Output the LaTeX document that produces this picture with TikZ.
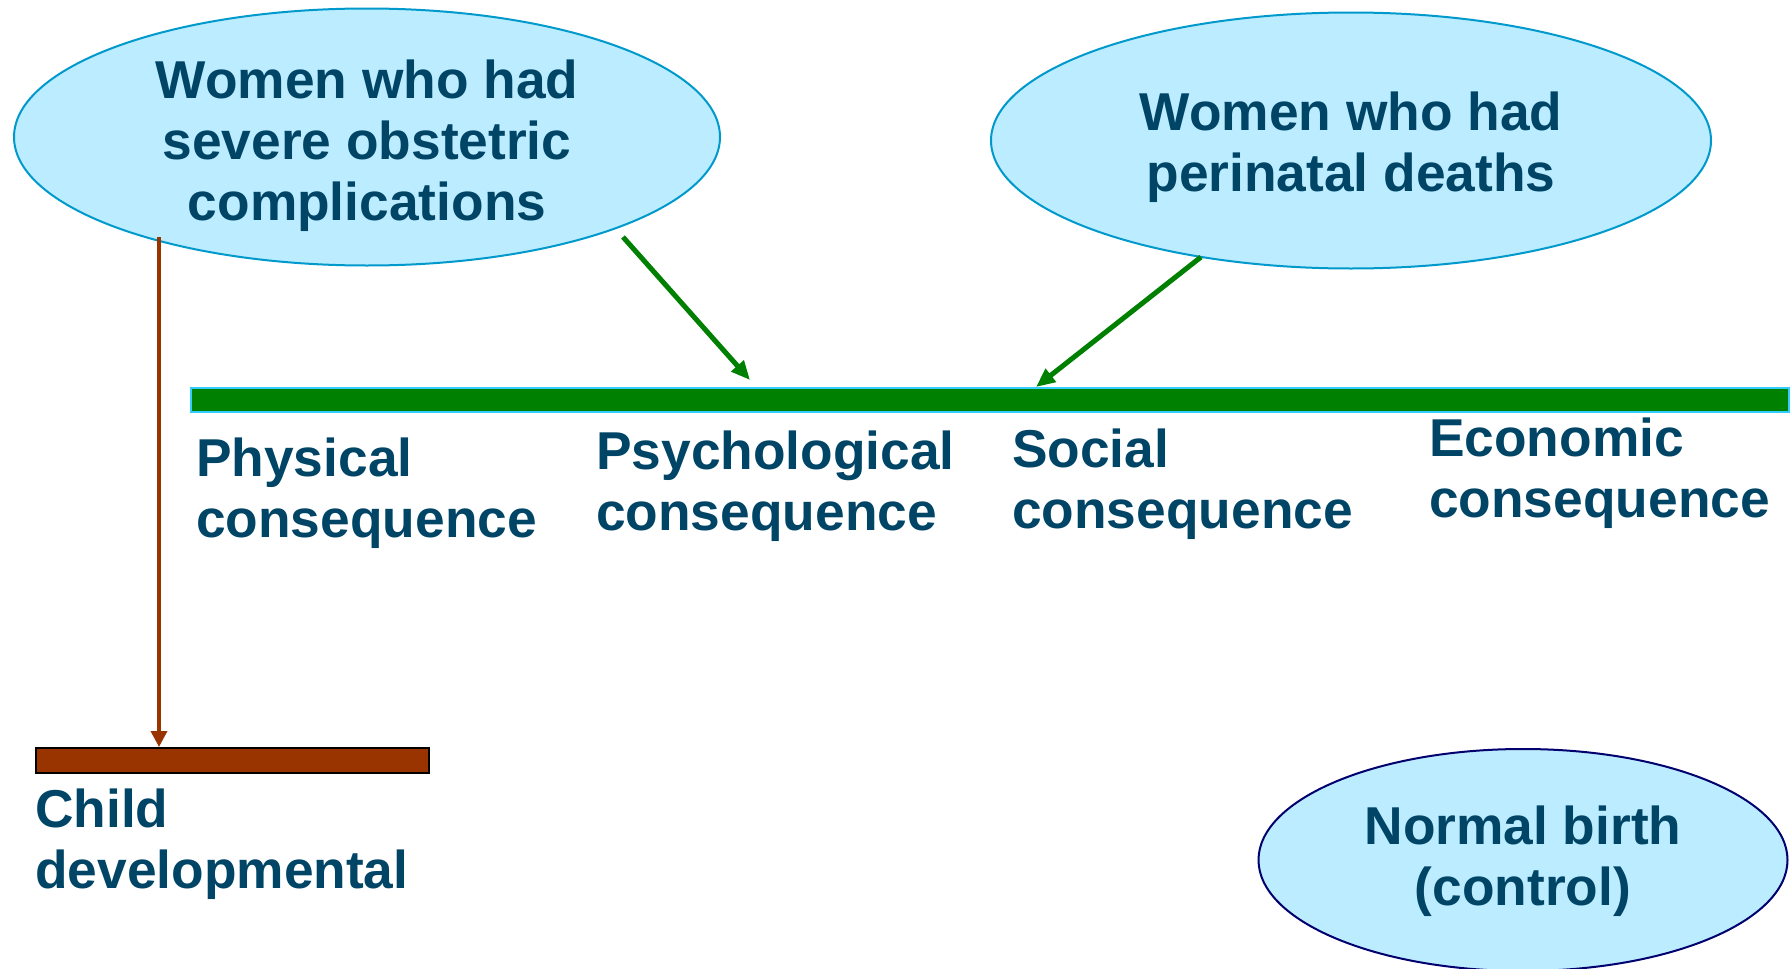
\documentclass[tikz,border=0pt]{standalone}
\usepackage{fontspec}
\setmainfont{Liberation Sans}
\usetikzlibrary{shapes.geometric,arrows.meta}
\definecolor{txt}{RGB}{0,68,102}
\definecolor{efill}{RGB}{187,236,255}
\definecolor{eline}{RGB}{0,153,204}
\definecolor{navy}{RGB}{0,0,110}
\definecolor{gbar}{RGB}{0,128,0}
\definecolor{gline}{RGB}{51,204,255}
\definecolor{brown}{RGB}{153,51,0}
\tikzset{
  bubble/.style={ellipse,fill=efill,draw=eline,line width=2pt,inner sep=0pt},
  btext/.style={text=txt,font=\bfseries\fontsize{53.3}{61}\selectfont,align=center,anchor=base,inner sep=0pt},
  ltext/.style={text=txt,font=\bfseries\fontsize{53.3}{61}\selectfont,align=left,anchor=base west,inner sep=0pt},
  garrow/.style={draw=gbar,line width=5pt,-{Triangle[length=19pt,width=16pt]}},
  barrow/.style={draw=brown,line width=3.5pt,-{Triangle[length=16pt,width=16pt]}},
}
\begin{document}
\begin{tikzpicture}[x=1pt,y=-1pt]
\useasboundingbox (0,0) rectangle (1791,969);
% ellipses
\node[bubble,minimum width=706pt,minimum height=257pt] (e1) at (367,137) {};
\node[bubble,minimum width=720pt,minimum height=256pt] (e2) at (1351,140.5) {};
\node[bubble,draw=navy,minimum width=529pt,minimum height=222pt] (e3) at (1523,860) {};
\node[btext] (t1) at (367,220) {Women who had\\severe obstetric\\complications};
\node[btext] (t2) at (1351,191) {Women who had\\perinatal deaths};
\node[btext] (t3) at (1523,905) {Normal birth\\(control)};
% bars
\node[rectangle,fill=gbar,draw=gline,line width=2pt,minimum width=1598pt,minimum height=24pt,inner sep=0pt] (gb) at (990,400) {};
\node[rectangle,fill=brown,draw=black,line width=2pt,minimum width=393pt,minimum height=25pt,inner sep=0pt] (bb) at (232.5,760.5) {};
% connectors
\coordinate (s1) at (623,237);
\coordinate (k1) at (750,380);
\coordinate (s2) at (1201,257);
\coordinate (k2) at (1036,387);
\coordinate (s3) at (159,237);
\draw[garrow] (s1) -- (k1);
\draw[garrow] (s2) -- (k2);
\draw[barrow] (s3) -- (s3 |- bb.north);
% labels
\node[ltext] (l1) at (196,537) {Physical\\consequence};
\node[ltext] (l2) at (596,530) {Psychological\\consequence};
\node[ltext] (l3) at (1012,528) {Social\\consequence};
\node[ltext] (l4) at (1429,517) {Economic\\consequence};
\node[ltext] (l5) at (35,888) {Child\\developmental};
\end{tikzpicture}
\end{document}
